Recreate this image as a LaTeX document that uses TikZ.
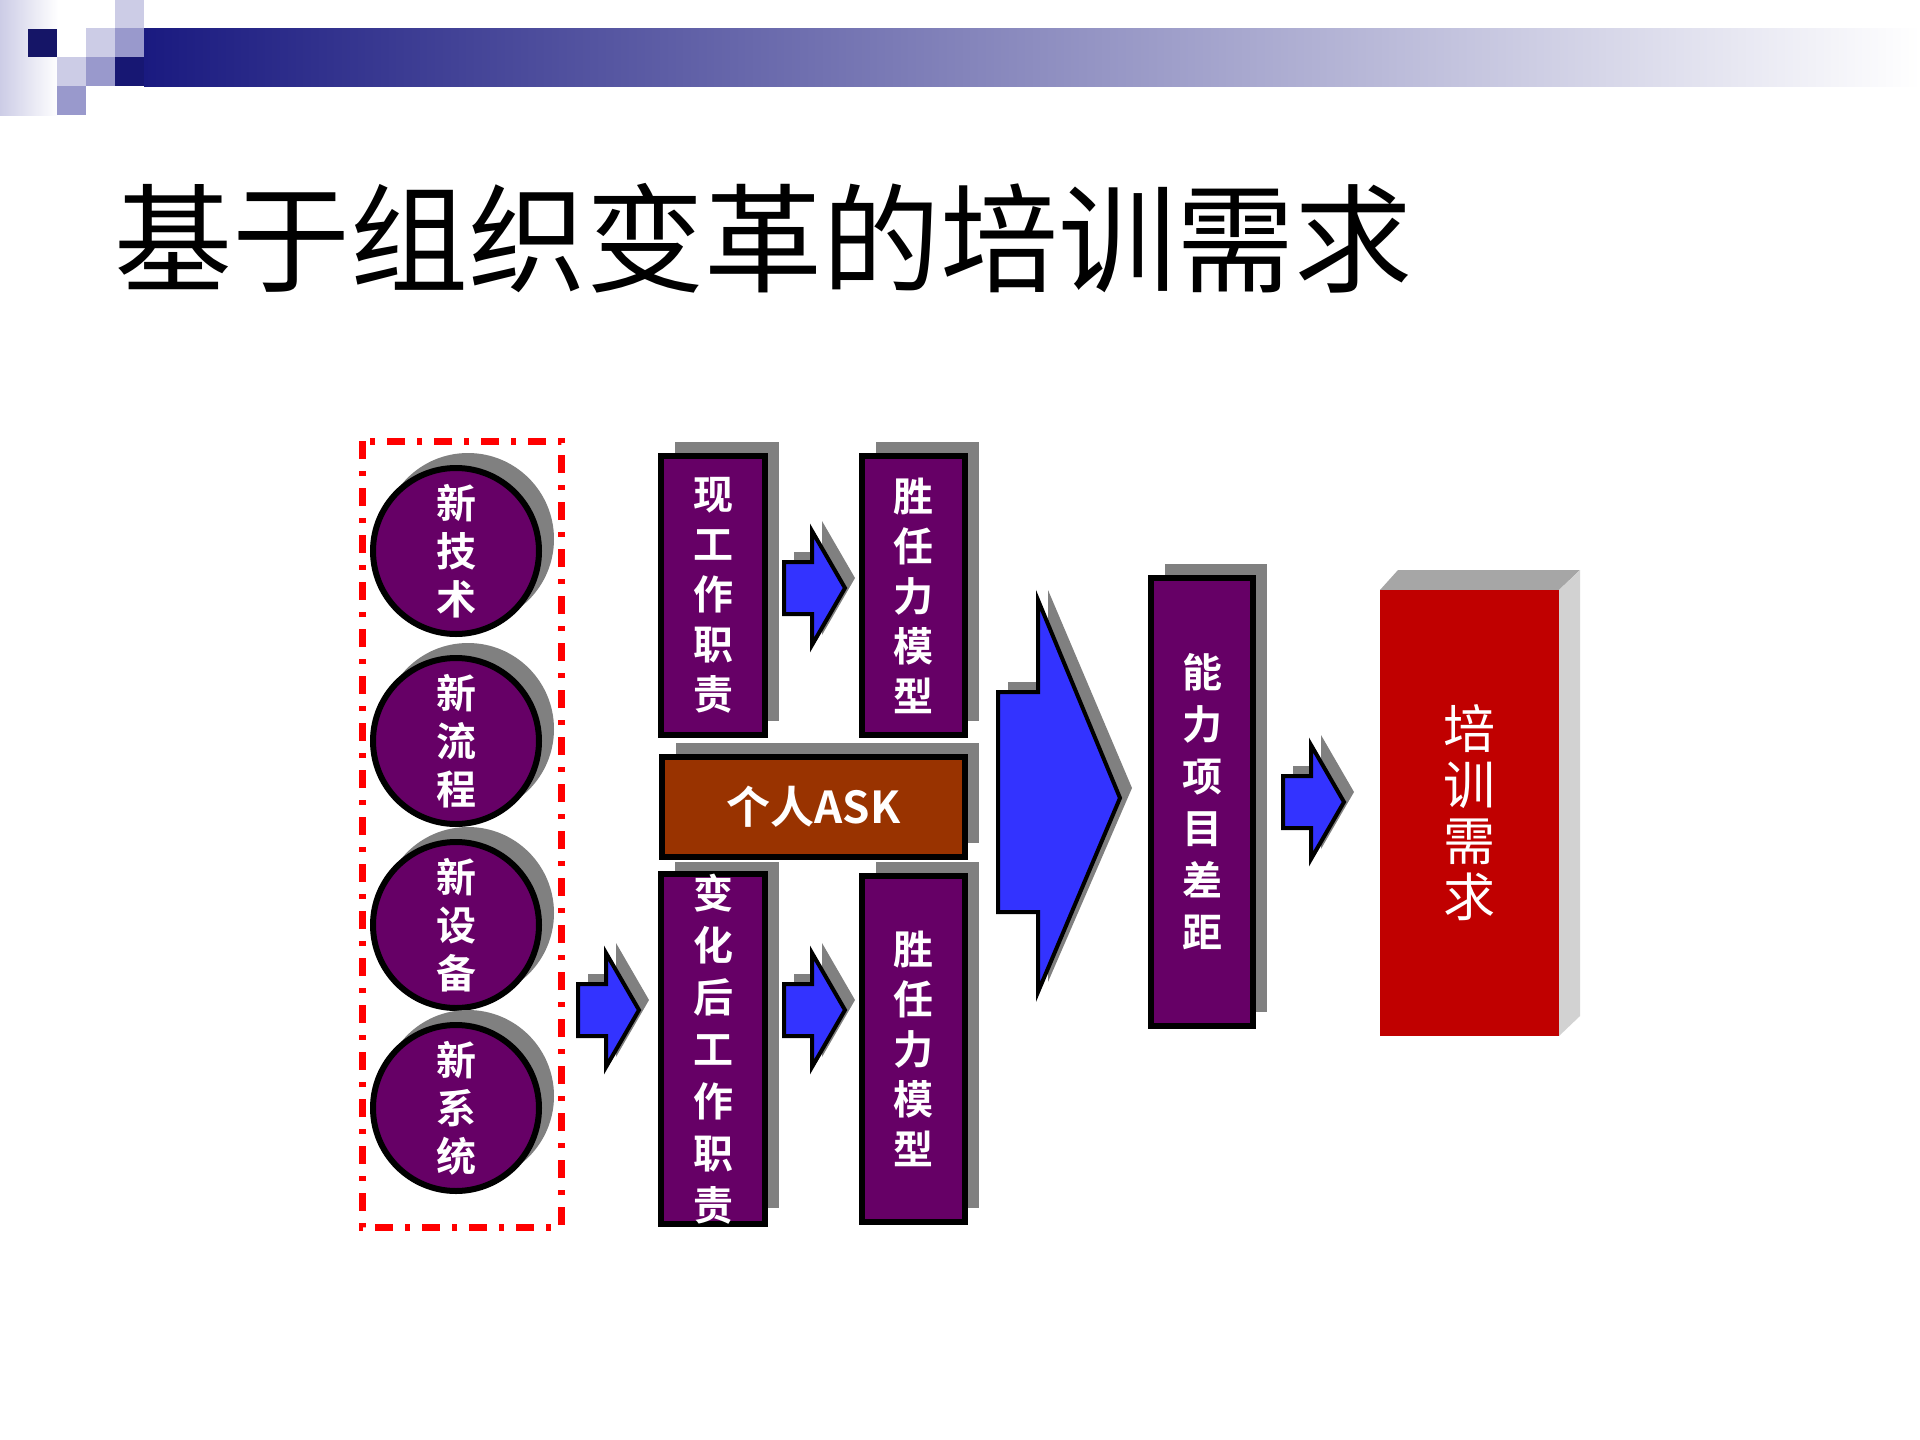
\documentclass[tikz,border=0pt]{standalone}
\usepackage{fontspec}
\newfontfamily\cjk{Noto Sans CJK SC}
\newfontfamily\cjkb{Noto Sans CJK SC Bold}
\usetikzlibrary{shapes.geometric}
\definecolor{navy}{HTML}{1A1A80}
\definecolor{lav}{HTML}{CCCCE6}
\definecolor{midlav}{HTML}{9999CC}
\definecolor{purp}{HTML}{660066}
\definecolor{brn}{HTML}{993300}
\definecolor{arblue}{HTML}{3333FF}
\definecolor{redbox}{HTML}{C00000}
\tikzset{
  pbox/.style={draw=black,line width=6pt,fill=purp,text=white,font=\cjkb\fontsize{40}{50}\selectfont,align=center,inner sep=0pt},
  circ/.style={circle,draw=black,line width=6pt,fill=purp,text=white,minimum size=166pt,font=\cjkb\fontsize{40}{48}\selectfont,align=center,inner sep=0pt},
  arrowshape/.style={fill=arblue,draw=black,line width=4pt,line join=miter},
}
\begin{document}
\begin{tikzpicture}[x=1pt,y=-1pt]
\useasboundingbox (0,0) rectangle (1920,1440);
% header
\shade[left color=lav,right color=white] (0,0) rectangle (58,115);
\fill[white] (28,29) rectangle (57,57);
\fill[navy!80!black] (28,29) rectangle (57,57);
\fill[lav] (115,0) rectangle (144,28);
\fill[lav] (86,28) rectangle (115,57);
\fill[midlav] (115,28) rectangle (144,57);
\fill[lav] (57,57) rectangle (86,86);
\fill[midlav] (86,57) rectangle (115,86);
\fill[midlav] (57,86) rectangle (86,115);
\fill[navy!90!black] (115,57) rectangle (144,86);
\shade[left color=navy,right color=white] (144,28) rectangle (1920,86);
% title
\node[anchor=west,inner sep=0pt,font=\cjk\fontsize{118}{124}\selectfont] (title) at (114,238) {基于组织变革的培训需求};
% dashed box
\draw[red,line width=7pt,dash pattern=on 18pt off 12pt on 5pt off 12pt] (362,441) rectangle (561,1227);
% circles
\foreach \n/\cy/\t in {c1/551/新\\技\\术, c2/741/新\\流\\程, c3/925/新\\设\\备, c4/1108/新\\系\\统}{
  \fill[gray] (468,\cy-12) circle (86);
  \node[circ] (\n) at (456,\cy) {\t};
}
% boxes with shadows
\newcommand\shbox[4]{\fill[gray] (#1+14,#2-14) rectangle (#3+14,#4-14);}
\shbox{661}{456}{765}{735}
\shbox{862}{456}{965}{735}
\shbox{662}{757}{965}{857}
\shbox{661}{876}{765}{1222}
\shbox{862}{876}{965}{1222}
\shbox{1151}{578}{1253}{1026}
\node[pbox,minimum width=104pt,minimum height=279pt] (b1) at (713,595.5) {现\\工\\作\\职\\责};
\node[pbox,minimum width=103pt,minimum height=279pt] (b2) at (913.5,595.5) {胜\\任\\力\\模\\型};
\node[pbox,fill=brn,minimum width=303pt,minimum height=100pt,font=\cjkb\fontsize{44}{50}\selectfont] (ask) at (813.5,807) {个人ASK};
\node[pbox,minimum width=104pt,minimum height=346pt,font=\cjkb\fontsize{40}{52}\selectfont] (b3) at (713,1049) {变\\化\\后\\工\\作\\职\\责};
\node[pbox,minimum width=103pt,minimum height=346pt] (b4) at (913.5,1049) {胜\\任\\力\\模\\型};
\node[pbox,minimum width=102pt,minimum height=448pt,font=\cjkb\fontsize{40}{52}\selectfont] (gap) at (1202,802) {能\\力\\项\\目\\差\\距};
% red box 3D
\fill[gray!70] (1380,590) -- (1398,570) -- (1580,570) -- (1559,590) -- cycle;
\fill[gray!35] (1559,590) -- (1580,570) -- (1580,1016) -- (1559,1036) -- cycle;
\node[fill=redbox,minimum width=179pt,minimum height=446pt,inner sep=0pt,text=white,font=\cjk\fontsize{52}{56}\selectfont,align=center] (need) at (1469.5,813) {培\\训\\需\\求};
% small arrows
\foreach \ax/\ay in {784/588, 784/1010, 578/1010, 1283/802}{
  \fill[gray] (\ax+10,\ay-36) -- (\ax+38,\ay-36) -- (\ax+38,\ay-67) -- (\ax+71,\ay-10) -- (\ax+38,\ay+47) -- (\ax+38,\ay+16) -- (\ax+10,\ay+16) -- cycle;
  \draw[arrowshape] (\ax,\ay-26) -- (\ax+28,\ay-26) -- (\ax+28,\ay-57) -- (\ax+61,\ay) -- (\ax+28,\ay+57) -- (\ax+28,\ay+26) -- (\ax,\ay+26) -- cycle;
}
% big arrow
\fill[gray] (1008,682) -- (1048,682) -- (1048,590) -- (1132,788) -- (1048,982) -- (1048,902) -- (1008,902) -- cycle;
\draw[arrowshape] (998,692) -- (1038,692) -- (1038,600) -- (1120,798) -- (1038,992) -- (1038,912) -- (998,912) -- cycle;
\end{tikzpicture}
\end{document}
